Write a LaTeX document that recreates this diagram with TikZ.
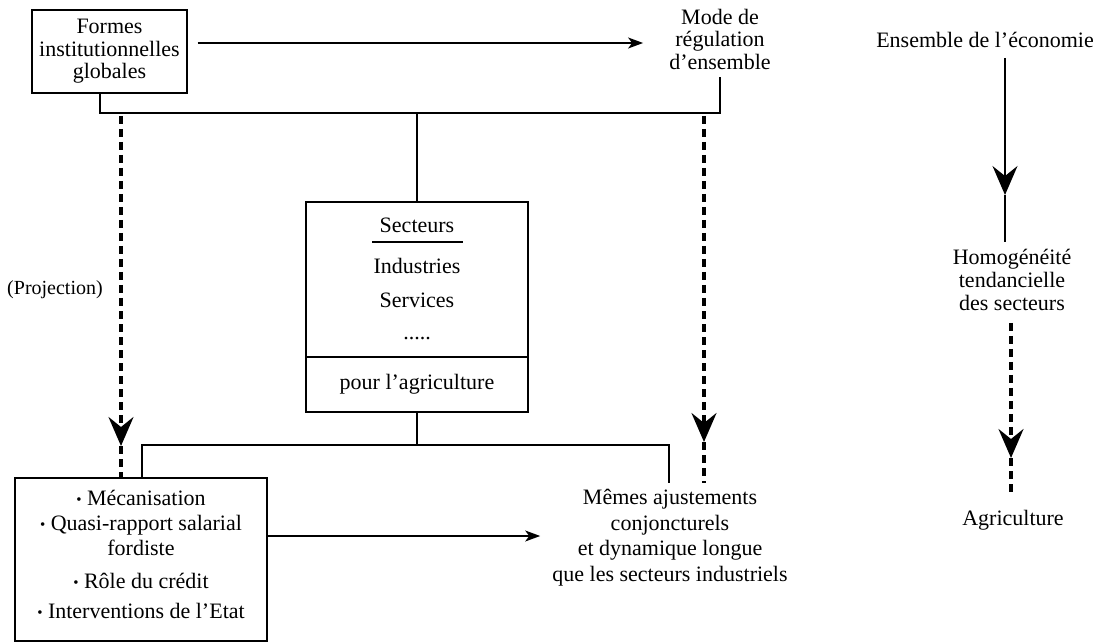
\documentclass[tikz,border=0pt]{standalone}
\usepackage{fontspec}
\setmainfont{Liberation Serif}
\usetikzlibrary{arrows.meta}
\newcommand{\puce}{{\fontsize{15}{15}\selectfont\raisebox{1pt}{•}}~}
\tikzset{
  lbl/.style={align=center, inner sep=0pt, font=\fontsize{22}{22.5}\selectfont},
  box/.style={draw, line width=1.4pt, inner sep=0pt},
  link/.style={line width=1.4pt},
  proj/.style={line width=3.2pt, dash pattern=on 8pt off 5pt},
  arr/.style={link, -{Stealth[length=15pt,width=11pt,inset=4pt]}},
  bigtip/.style={-{Stealth[length=29pt,width=25pt,inset=10pt]}},
}
\begin{document}
\begin{tikzpicture}[x=1pt,y=-1pt]
  \useasboundingbox (0,0) rectangle (1108,644);
  % top row
  \node[box, lbl, minimum width=155pt, minimum height=83pt] (formes) at (109.5,51.5) {Formes\\institutionnelles\\globales};
  \node[lbl] (mode) at (720,39) {Mode de\\régulation\\d'ensemble};
  \node[lbl] (eco) at (985,40) {Ensemble de l'économie};
  % sectors
  \node[box, minimum width=222pt, minimum height=155pt] (sect) at (417,279.5) {};
  \node[box, lbl, minimum width=222pt, minimum height=55pt] (agrisec) at (417,384.5) {pour l'agriculture};
  \node[lbl, anchor=base] (secs) at (417,233) {Secteurs};
  \node[lbl, anchor=base] (ind) at (417,273) {Industries};
  \node[lbl, anchor=base] (serv) at (417,307) {Services};
  \node[lbl, anchor=base] (etc) at (417,339) {.....};
  \draw[line width=2.2pt] (372,242) -- (463,242);
  \node[lbl, font=\fontsize{20}{22}\selectfont] (projlbl) at (55,290) {(Projection)};
  % bottom row
  \node[box, minimum width=252pt, minimum height=163pt] (mecan) at (141,559.5) {};
  \node[lbl, anchor=north, font=\fontsize{22}{25}\selectfont] (leviers) at (141,490)
    {\puce Mécanisation\\\puce Quasi-rapport salarial\\fordiste\\[8pt]\puce Rôle du crédit\\[5pt]\puce Interventions de l'Etat};
  \node[lbl, anchor=north, font=\fontsize{22}{25.5}\selectfont] (memes) at (670,489)
    {Mêmes ajustements\\conjoncturels\\et dynamique longue\\que les secteurs industriels};
  \node[lbl, font=\fontsize{22}{23}\selectfont] (homog) at (1012,280) {Homogénéité\\tendancielle\\des secteurs};
  \node[lbl] (agri) at (1013,520) {Agriculture};
  % connectors
  \coordinate (hl) at (100,113);
  \coordinate (hr) at (720,113);
  \draw[link, shorten >=8pt] (formes.south -| hl) -- (hl) -- (hr) -- (mode.south -| hr);
  \draw[link] (sect.north) -- (sect.north |- hl);
  \draw[arr, shorten <=10pt, shorten >=26pt] ([yshift=8.5pt]formes.east) -- ([yshift=8.5pt]formes.east -| mode.west);
  \coordinate (pl) at (121,116);
  \coordinate (pltip) at (121,446);
  \draw[proj, bigtip] (pl) -- (pltip);
  \draw[proj] (pltip) -- (mecan.north -| pl);
  \coordinate (pr) at (704,116);
  \coordinate (prtip) at (704,442);
  \draw[proj, bigtip] (pr) -- (prtip);
  \draw[proj, shorten >=6pt] (prtip) -- (memes.north -| pr);
  \coordinate (bl) at (142,445);
  \coordinate (br) at (669,445);
  \draw[link, shorten >=6pt] (mecan.north -| bl) -- (bl) -- (br) -- (memes.north -| br);
  \draw[link] (agrisec.south) -- (agrisec.south |- bl);
  \draw[arr, shorten >=12pt] ([yshift=23.5pt]mecan.east) -- ([yshift=23.5pt]mecan.east -| memes.west);
  % right column
  \coordinate (rx) at (1005,0);
  \coordinate (ecotip) at (1005,195);
  \draw[link, bigtip, shorten <=10pt] (eco.south -| rx) -- (ecotip);
  \draw[link, shorten >=7pt] (ecotip) -- (homog.north -| rx);
  \coordinate (hx) at (1011,0);
  \coordinate (homtip) at (1011,458);
  \draw[proj, bigtip, shorten <=12pt] (homog.south -| hx) -- (homtip);
  \draw[proj, shorten >=17pt] (homtip) -- (agri.north -| hx);
\end{tikzpicture}
\end{document}
